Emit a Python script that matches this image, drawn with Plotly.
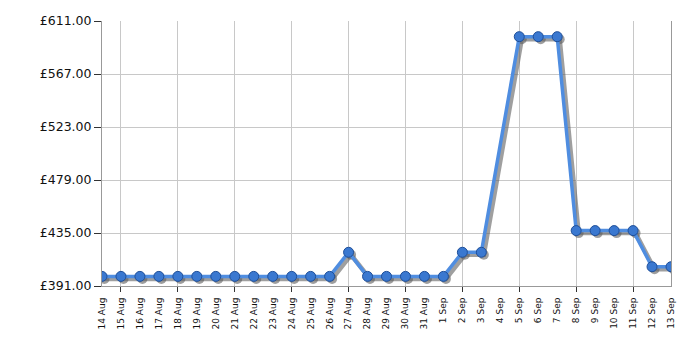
import plotly.graph_objects as go

dates = ["14 Aug", "15 Aug", "16 Aug", "17 Aug", "18 Aug", "19 Aug", "20 Aug", "21 Aug",
         "22 Aug", "23 Aug", "24 Aug", "25 Aug", "26 Aug", "27 Aug", "28 Aug", "29 Aug",
         "30 Aug", "31 Aug", "1 Sep", "2 Sep", "3 Sep", "4 Sep", "5 Sep", "6 Sep", "7 Sep",
         "8 Sep", "9 Sep", "10 Sep", "11 Sep", "12 Sep", "13 Sep"]
prices = [398.99, 398.99, 398.99, 398.99, 398.99, 398.99, 398.99, 398.99,
          398.99, 398.99, 398.99, 398.99, 398.99, 418.99, 398.99, 398.99,
          398.99, 398.99, 398.99, 418.99, 418.99, None, 597.99, 597.99, 597.99,
          436.99, 436.99, 436.99, 436.99, 406.99, 406.99]
y_ticks = [391, 435, 479, 523, 567, 611]
y_labels = ["£391.00", "£435.00", "£479.00", "£523.00", "£567.00", "£611.00"]

xs = list(range(len(dates)))
x_min, x_max = 0, len(dates) - 1
y_min, y_max = 391, 611

# shadow offset in pixels, converted to axis units
plot_w, plot_h = 569, 265
shadow_px = 2.5
dx = (x_max - x_min) * shadow_px / plot_w
dy = (y_max - y_min) * shadow_px / plot_h

fig = go.Figure()
# shadow (hidden base axes, range shifted)
fig.add_trace(go.Scatter(x=xs, y=prices, xaxis="x", yaxis="y", mode="lines+markers",
                         connectgaps=True, hoverinfo="skip",
                         line=dict(color="rgba(95,95,95,0.6)", width=4.5),
                         marker=dict(size=10, color="rgba(95,95,95,0.6)", line=dict(width=0))))
# main (visible axes)
fig.add_trace(go.Scatter(x=xs, y=prices, xaxis="x2", yaxis="y2", mode="lines+markers",
                         connectgaps=True,
                         line=dict(color="#4f8de0", width=3.5),
                         marker=dict(size=10, color="#3a78d0", line=dict(color="#1f4f99", width=1))))

fig.update_layout(
    width=700, height=350, showlegend=False,
    plot_bgcolor="white", paper_bgcolor="white",
    margin=dict(l=102, r=29, t=21, b=64, autoexpand=False),
    font=dict(family="DejaVu Sans", color="#111"),
    xaxis=dict(range=[x_min - dx, x_max - dx], visible=False, anchor="y",
               showgrid=False, automargin=False),
    yaxis=dict(range=[y_min + dy, y_max + dy], visible=False, anchor="x",
               showgrid=False, automargin=False),
    xaxis2=dict(range=[x_min, x_max], overlaying="x", anchor="y2",
                tickmode="array", tickvals=xs, ticktext=dates, tickangle=-90, ticks="",
                ticklabelstandoff=7,
                showgrid=False, tickfont=dict(size=9), showline=True, linecolor="#999",
                linewidth=1, zeroline=False, side="bottom", automargin=False,
                minor=dict(tick0=1, dtick=3, ticks="outside", ticklen=5, tickcolor="#333",
                           showgrid=True, gridcolor="#c8c8c8", gridwidth=1)),
    yaxis2=dict(range=[y_min, y_max], overlaying="y", anchor="x2",
                tickmode="array", tickvals=y_ticks, ticktext=y_labels, ticks="outside",
                ticklen=7, tickcolor="#333", showgrid=True, gridcolor="#c8c8c8",
                showline=True, linecolor="#999", mirror=True, zeroline=False,
                side="left", tickfont=dict(size=12.5), automargin=False),
)

fig.write_html("out.html")
